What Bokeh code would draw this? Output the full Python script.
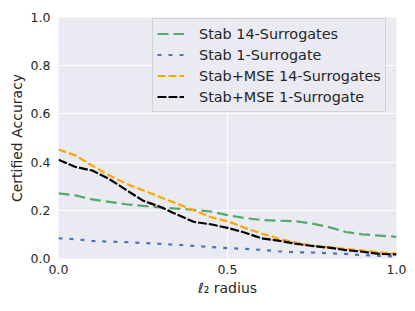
from bokeh.plotting import figure
from bokeh.models import Range1d, FixedTicker, PrintfTickFormatter, Legend, LegendItem
from bokeh.embed import file_html
from bokeh.resources import INLINE

radius = [0.00, 0.05, 0.10, 0.15, 0.20, 0.25, 0.30, 0.35, 0.40, 0.45, 0.50,
          0.55, 0.60, 0.65, 0.70, 0.75, 0.80, 0.85, 0.90, 0.95, 1.00]
stab_14 = [0.270, 0.262, 0.245, 0.235, 0.225, 0.218, 0.212, 0.207, 0.202, 0.195, 0.180,
           0.168, 0.160, 0.157, 0.155, 0.145, 0.130, 0.110, 0.100, 0.095, 0.090]
stab_1 = [0.084, 0.080, 0.073, 0.070, 0.068, 0.064, 0.061, 0.057, 0.052, 0.048, 0.043,
          0.040, 0.036, 0.030, 0.026, 0.025, 0.022, 0.019, 0.014, 0.011, 0.008]
mse_14 = [0.452, 0.428, 0.385, 0.345, 0.310, 0.283, 0.255, 0.228, 0.200, 0.172, 0.155,
          0.128, 0.104, 0.083, 0.066, 0.053, 0.047, 0.040, 0.033, 0.026, 0.020]
mse_1 = [0.410, 0.380, 0.365, 0.330, 0.285, 0.240, 0.215, 0.183, 0.152, 0.142, 0.127,
         0.108, 0.084, 0.074, 0.062, 0.052, 0.045, 0.035, 0.028, 0.019, 0.017]

labels = ["Stab 14-Surrogates", "Stab 1-Surrogate", "Stab+MSE 14-Surrogates", "Stab+MSE 1-Surrogate"]
x_ticks = [0.0, 0.5, 1.0]
y_ticks = [0.0, 0.2, 0.4, 0.6, 0.8, 1.0]

p = figure(width=415, height=311, output_backend="svg", toolbar_location=None,
           x_range=Range1d(0, 1), y_range=Range1d(0, 1),
           min_border_left=58, min_border_right=19, min_border_top=17, min_border_bottom=53)
p.background_fill_color = "#EAEAF2"
p.border_fill_color = "white"
p.outline_line_color = None

for ax in (p.xaxis, p.yaxis):
    ax.axis_line_color = None
    ax.major_tick_line_color = None
    ax.minor_tick_line_color = None
    ax.major_tick_out = 0
    ax.major_tick_in = 0
    ax.minor_tick_out = 0
    ax.major_label_text_font = "DejaVu Sans"
    ax.major_label_text_font_size = "12.5px"
    ax.major_label_text_color = "#262626"
    ax.axis_label_text_font = "DejaVu Sans"
    ax.axis_label_text_font_size = "14px"
    ax.axis_label_text_font_style = "normal"
    ax.axis_label_text_color = "#262626"
    ax.formatter = PrintfTickFormatter(format="%.1f")

p.xaxis.ticker = FixedTicker(ticks=x_ticks)
p.yaxis.ticker = FixedTicker(ticks=y_ticks)
p.xaxis.major_label_standoff = 6
p.yaxis.major_label_standoff = 8
p.xaxis.axis_label = "ℓ₂ radius"
p.yaxis.axis_label = "Certified Accuracy"
p.xaxis.axis_label_standoff = 3
p.yaxis.axis_label_standoff = 3

p.grid.grid_line_color = "white"
p.grid.grid_line_width = 1.2

r1 = p.line(radius, stab_14, line_color="#55A868", line_width=2.2, line_dash="11 5")
r2 = p.line(radius, stab_1, line_color="#4C72B0", line_width=2.2, line_dash="4 7")
r3 = p.line(radius, mse_14, line_color="orange", line_width=2.2, line_dash="8 3")
r4 = p.line(radius, mse_1, line_color="black", line_width=2.2, line_dash="9 2")

legend = Legend(items=[LegendItem(label=l, renderers=[r]) for l, r in zip(labels, [r1, r2, r3, r4])],
                location=(94, 146))
legend.label_text_font = "DejaVu Sans"
legend.label_text_font_size = "14.4px"
legend.label_text_color = "#262626"
legend.glyph_width = 27
legend.glyph_height = 21
legend.label_height = 21
legend.spacing = 0
legend.padding = 4
legend.label_standoff = 15
legend.margin = 0
legend.background_fill_color = "#EAEAF2"
legend.background_fill_alpha = 0.8
legend.border_line_color = "#CCCCCC"
legend.border_line_alpha = 0.8
p.add_layout(legend)

open("out.html", "w").write(file_html(p, INLINE))
